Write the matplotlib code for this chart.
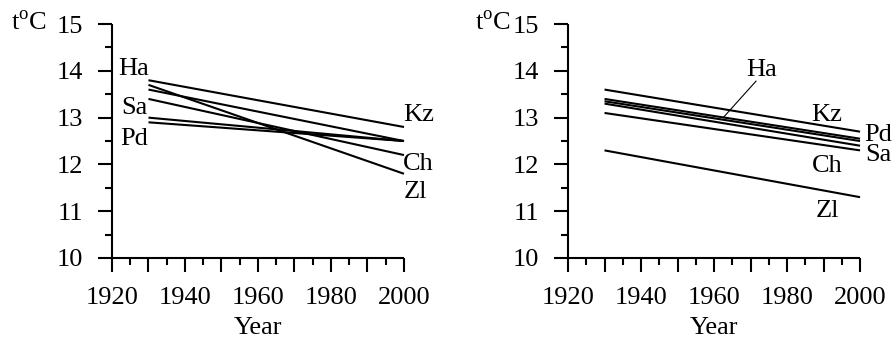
import matplotlib
matplotlib.use("Agg")
import matplotlib.pyplot as plt
from matplotlib.ticker import MultipleLocator

plt.rcParams['font.family'] = 'Liberation Serif'
plt.rcParams['mathtext.fontset'] = 'custom'
plt.rcParams['mathtext.rm'] = 'Liberation Serif'
plt.rcParams['font.size'] = 19

years = [1930, 2000]

# left panel: start / end temperature of each trend line
left_start = [13.8, 13.7, 13.6, 13.4, 13.0, 12.9]
left_end = [12.8, 11.8, 12.5, 12.2, 12.5, 12.5]
left_labels = ['Ha', 'Sa', 'Pd', 'Kz', 'Ch', 'Zl']
left_lx = [1926, 1926, 1926, 2004, 2004, 2003]
left_ly = [14.05, 13.2, 12.55, 13.05, 12.0, 11.4]

# right panel
right_start = [13.6, 13.4, 13.35, 13.3, 13.1, 12.3]
right_end = [12.7, 12.55, 12.5, 12.4, 12.3, 11.3]
right_labels = ['Ha', 'Kz', 'Pd', 'Sa', 'Ch', 'Zl']
right_lx = [1973, 1991, 2005, 2005, 1991, 1991]
right_ly = [14.02, 13.05, 12.62, 12.2, 11.97, 11.0]
ha_leader_x = [1962.5, 1971.5]
ha_leader_y = [13.0, 13.78]


def style_axis(ax, unit_x):
    ax.set_xlim(1920, 2000)
    ax.set_ylim(10, 15)
    ax.spines['top'].set_visible(False)
    ax.spines['right'].set_visible(False)
    for s in ['left', 'bottom']:
        ax.spines[s].set_linewidth(1.5)
        ax.spines[s].set_capstyle('butt')
    ax.xaxis.set_minor_locator(MultipleLocator(5))
    ax.set_xticks(range(1920, 2001, 10))
    ax.set_xticklabels([str(y) if y % 20 == 0 else '' for y in range(1920, 2001, 10)])
    ax.yaxis.set_major_locator(MultipleLocator(1))
    ax.yaxis.set_minor_locator(MultipleLocator(0.5))
    ax.tick_params(which='major', direction='out', length=10, width=1.5, pad=11)
    ax.tick_params(which='minor', direction='out', length=5, width=1.5)
    ax.set_xlabel('Year', labelpad=5.5)
    ax.text(unit_x, 1.002, r't$^{\rm o}$C', transform=ax.transAxes,
            ha='center', va='center', fontsize=19)


fig = plt.figure(figsize=(8.93, 3.40), dpi=100)
ax1 = fig.add_axes([0.1254, 0.2412, 0.327, 0.688])
ax2 = fig.add_axes([0.6361, 0.2412, 0.327, 0.688])

for s, e in zip(left_start, left_end):
    ax1.plot(years, [s, e], color='black', lw=1.5, solid_capstyle='butt', clip_on=False)
for t, x, y in zip(left_labels, left_lx, left_ly):
    ax1.text(x, y, t, ha='center', va='center', fontsize=19, clip_on=False)

for s, e in zip(right_start, right_end):
    ax2.plot(years, [s, e], color='black', lw=1.5, solid_capstyle='butt', clip_on=False)
ax2.plot(ha_leader_x, ha_leader_y, color='black', lw=0.8)
for t, x, y in zip(right_labels, right_lx, right_ly):
    ax2.text(x, y, t, ha='center', va='center', fontsize=19, clip_on=False)

style_axis(ax1, -0.283)
style_axis(ax2, -0.257)

fig.savefig('out.png', dpi=100)
